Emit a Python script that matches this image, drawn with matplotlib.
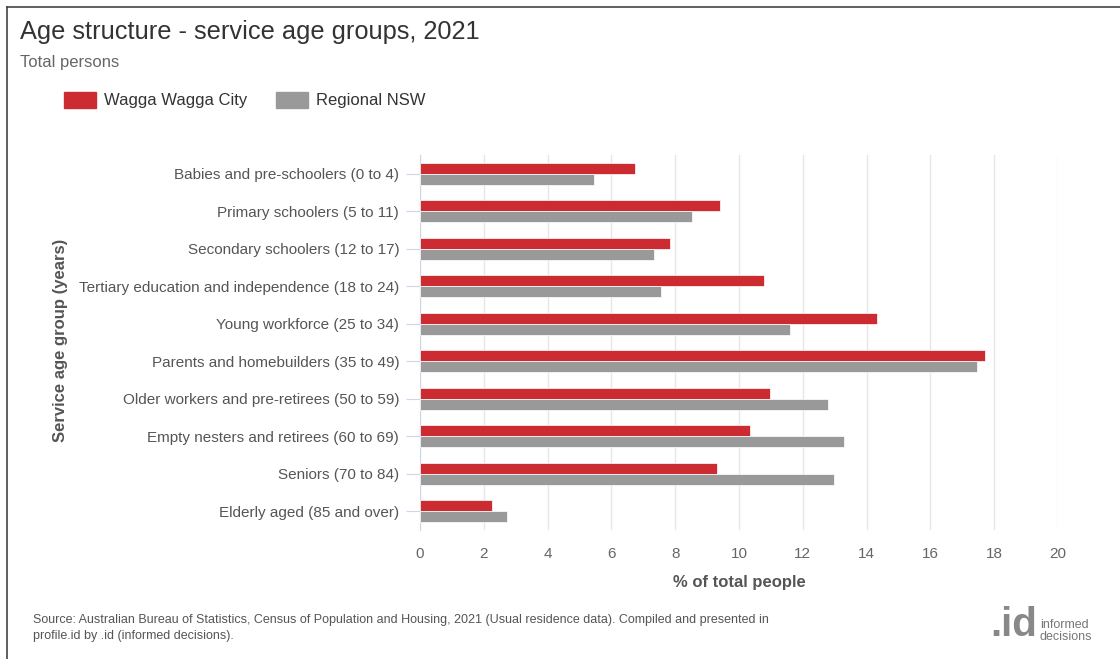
import numpy as np
import matplotlib
matplotlib.use('Agg')
import matplotlib.pyplot as plt
from matplotlib.lines import Line2D
from matplotlib.patches import Patch

plt.rcParams['font.family'] = ['Liberation Sans', 'DejaVu Sans']

# 数据
groups = ['Babies and pre-schoolers (0 to 4)', 'Primary schoolers (5 to 11)',
          'Secondary schoolers (12 to 17)', 'Tertiary education and independence (18 to 24)',
          'Young workforce (25 to 34)', 'Parents and homebuilders (35 to 49)',
          'Older workers and pre-retirees (50 to 59)', 'Empty nesters and retirees (60 to 69)',
          'Seniors (70 to 84)', 'Elderly aged (85 and over)']
wagga = [6.74, 9.40, 7.84, 10.78, 14.33, 17.71, 10.97, 10.34, 9.31, 2.26]
regional = [5.45, 8.53, 7.34, 7.55, 11.60, 17.46, 12.79, 13.29, 12.98, 2.73]
x_ticks = [0, 2, 4, 6, 8, 10, 12, 14, 16, 18, 20]

red = '#cc2b31'
grey = '#999999'

fig = plt.figure(figsize=(11.2, 6.59), dpi=100)
ax = fig.add_axes([420 / 1120, 1 - 530 / 659, 638 / 1120, 375 / 659])

y = np.arange(len(groups))
h = 0.29
ax.barh(y - h / 2, wagga, height=h, color=red, edgecolor='white', linewidth=0.5, zorder=3)
ax.barh(y + h / 2, regional, height=h, color=grey, edgecolor='white', linewidth=0.5, zorder=3)

ax.set_xlim(0, 20)
ax.set_ylim(len(groups) - 0.5, -0.5)
ax.set_xticks(x_ticks)
ax.set_yticks(y)
ax.set_yticklabels(groups)
ax.grid(axis='x', color='#e6e6e6', linewidth=1, zorder=0)
for s in ['top', 'right', 'bottom']:
    ax.spines[s].set_visible(False)
ax.spines['left'].set_color('#ccd6eb')
ax.tick_params(axis='y', length=10, color='#ccd6eb', pad=5, labelsize=11, labelcolor='#555555')
ax.tick_params(axis='x', length=0, pad=12, labelsize=11, labelcolor='#666666')

ax.set_xlabel('% of total people', fontsize=12, fontweight='bold', color='#555555', labelpad=10)
fig.text(60 / 1120, 1 - 340 / 659, 'Service age group (years)', rotation=90, fontsize=12,
         fontweight='bold', color='#555555', ha='center', va='center')

# 标题
fig.text(20 / 1120, 1 - 32 / 659, 'Age structure - service age groups, 2021', fontsize=18.3,
         color='#333333', va='center')
fig.text(20 / 1120, 1 - 63 / 659, 'Total persons', fontsize=12, color='#666666', va='center')

# 图例
handles = [Patch(color=red, label='Wagga Wagga City'), Patch(color=grey, label='Regional NSW')]
fig.legend(handles=handles, loc='center left', bbox_to_anchor=(49 / 1120, 1 - 100 / 659),
           ncol=2, frameon=False, fontsize=12, handlelength=1.9, handleheight=1.1,
           columnspacing=1.75, handletextpad=0.5, labelcolor='#333333')

# 来源
fig.text(33 / 1120, 1 - 628 / 659,
         'Source: Australian Bureau of Statistics, Census of Population and Housing, 2021 '
         '(Usual residence data). Compiled and presented in\nprofile.id by .id (informed decisions).',
         fontsize=9, color='#555555', va='center', linespacing=1.5)
fig.text(1037 / 1120, 1 - 625 / 659, '.id', fontsize=29, fontweight='bold', color='#888888',
         ha='right', va='center')
fig.text(1040 / 1120, 1 - 631 / 659, 'informed\ndecisions', fontsize=9, color='#777777',
         ha='left', va='center', linespacing=0.95)

# 边框（只有上边和左边）
fig.add_artist(Line2D([7 / 1120, 1], [1 - 7 / 659, 1 - 7 / 659], transform=fig.transFigure,
                      color='#444444', linewidth=1.2))
fig.add_artist(Line2D([7 / 1120, 7 / 1120], [0, 1 - 7 / 659], transform=fig.transFigure,
                      color='#444444', linewidth=1.2))

fig.savefig('out.png', dpi=100)
